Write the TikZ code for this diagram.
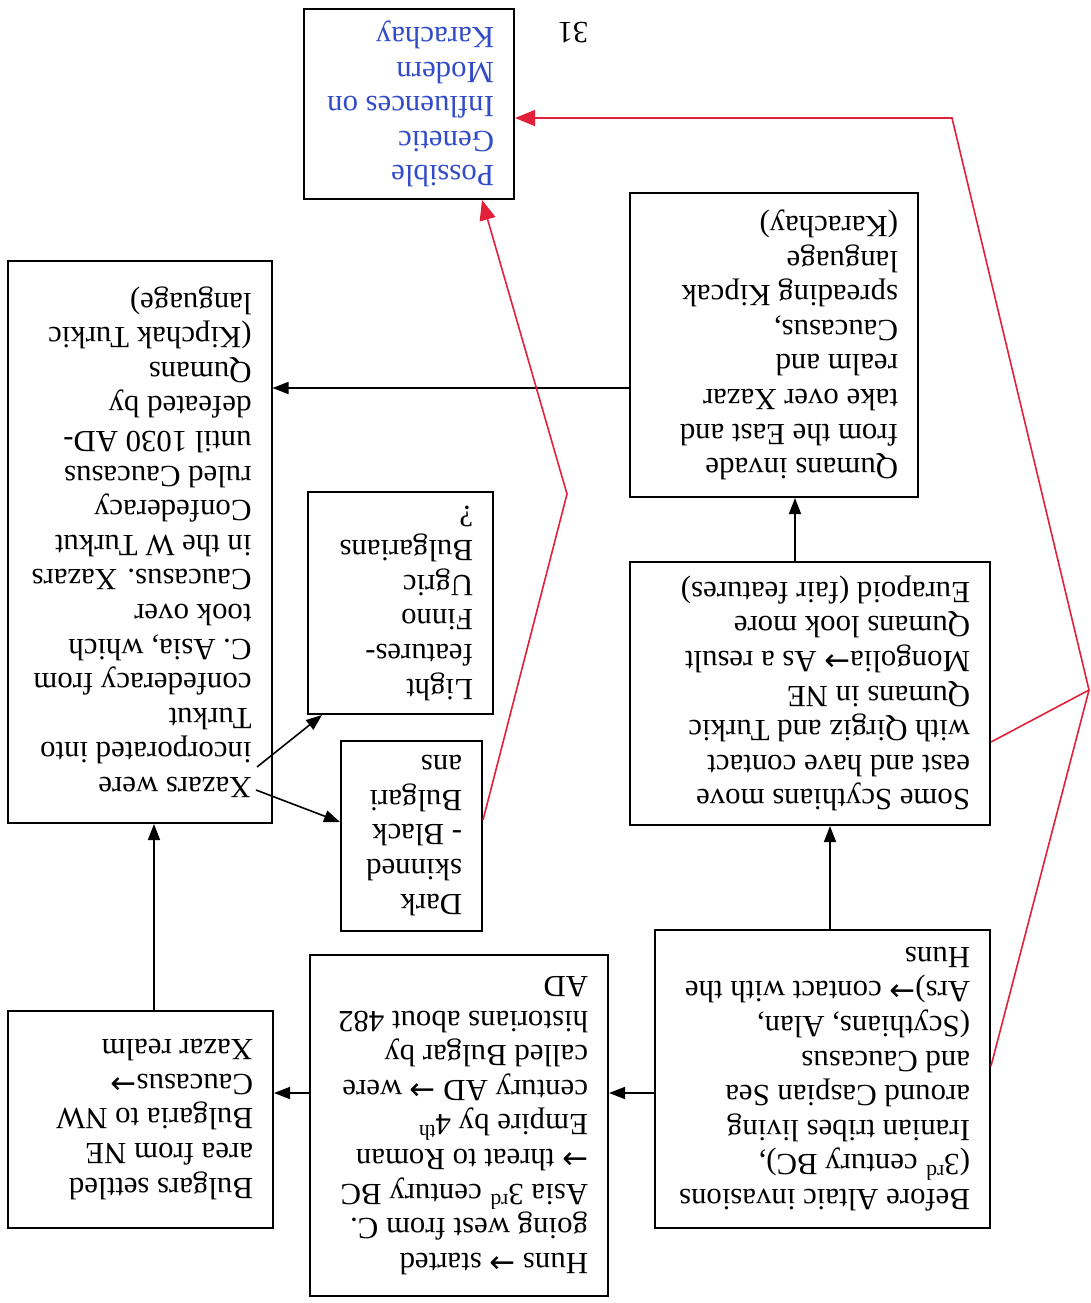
\documentclass[tikz,border=0pt]{standalone}
\usepackage{fontspec}
\setmainfont{Liberation Serif}
\newfontfamily\arrfont{DejaVu Sans}
\newcommand{\ar}{{\arrfont →}}
\newcommand{\fl}[2]{\makebox[#1][l]{#2}}
\usetikzlibrary{arrows.meta}
\definecolor{myred}{RGB}{226,32,58}
\definecolor{myblue}{RGB}{50,75,200}
\begin{document}
\begin{tikzpicture}[x=0.5pt,y=-0.5pt,
  box/.style={draw,line width=1pt,rotate=180,align=left,
    font=\fontsize{15.4}{17.3}\selectfont,inner sep=0pt},
  arr/.style={line width=0.8pt,-{Triangle[length=8pt,width=6pt]}},
  redarr/.style={myred,line width=0.8pt,-{Triangle[length=10pt,width=8pt]}},
  redline/.style={myred,line width=0.8pt}]
\useasboundingbox (0,0) rectangle (1091,1303);

\node[box,minimum width=167.5pt,minimum height=149pt] (A) at (822.5,1079)
 {\fl{147.5pt}{Before Altaic invasions}\\(3\textsuperscript{rd} century BC),\\Iranian tribes living\\around Caspian Sea\\and Caucasus\\(Scythians, Alan,\\Ars)\ar{} contact with the\\Huns};

\node[box,minimum width=149pt,minimum height=170.5pt] (B) at (459,1125.5)
 {\fl{129pt}{Huns \ar{} started}\\going west from C.\\Asia 3\textsuperscript{rd} century BC\\\ar{} threat to Roman\\Empire by 4\textsuperscript{th}\\century AD \ar{} were\\called Bulgar by\\historians about 482\\AD};

\node[box,minimum width=132.5pt,minimum height=108.5pt] (C) at (140.5,1119.5)
 {\fl{112.5pt}{Bulgars settled}\\area from NE\\Bulgaria to NW\\Caucasus\ar\\Xazar realm};

\node[box,minimum width=180pt,minimum height=131.5pt] (D) at (810,693.5)
 {\fl{160pt}{Some Scythians move}\\east and have contact\\with Qirgiz and Turkic\\Qumans in NE\\Mongolia\ar{} As a result\\Qumans look more\\Eurapoid (fair features)};

\node[box,minimum width=144pt,minimum height=152pt] (E) at (774,345)
 {\fl{124pt}{Qumans invade}\\from the East and\\take over Xazar\\realm and\\Caucasus,\\spreading Kipcak\\language\\(Karachay)};

\node[box,minimum width=132pt,minimum height=281pt] (F) at (139.5,542)
 {\fl{112pt}{Xazars were}\\incorporated into\\Turkut\\confederacy from\\C. Asia, which\\took over\\Caucasus. Xazars\\in the W Turkut\\Confederacy\\ruled Caucasus\\until 1030 AD-\\defeated by\\Qumans\\(Kipchak Turkic\\language)};

\node[box,minimum width=70.5pt,minimum height=95pt] (G) at (411.5,835.5)
 {\fl{50.5pt}{Dark}\\skinned\\- Black\\Bulgari\\ans};

\node[box,minimum width=92.5pt,minimum height=111pt] (H) at (400.5,603)
 {\fl{72.5pt}{Light}\\features-\\Finno\\Ugric\\Bulgarians\\?};

\node[box,minimum width=105pt,minimum height=95pt,text=myblue] (I) at (409,104)
 {\fl{85pt}{Possible}\\Genetic\\Influences on\\Modern\\Karachay};

\node[rotate=180,font=\fontsize{15.4}{17.3}\selectfont,inner sep=0pt] (pg) at (573,33) {31};

% black connectors
\draw[arr] (A.east |- 0,1093) -- (B.west |- 0,1093);
\draw[arr] (B.east |- 0,1093) -- (C.west |- 0,1093);
\draw[arr] (C.south -| 154,0) -- (F.north -| 154,0);
\draw[arr] (A.south -| 830,0) -- (D.north -| 830,0);
\draw[arr] (D.south -| 795,0) -- (E.north -| 795,0);
\draw[arr] (E.east |- 0,388) -- (F.west |- 0,388);
\coordinate (fg) at (256,790);
\coordinate (fh) at (257,767);
\draw[arr] (fg) -- (G.east |- 0,822);
\draw[arr] (fh) -- (H.north -| 322,0);

% red connectors
\coordinate (bend) at (567,494);
\coordinate (junc) at (1089,690);
\coordinate (corner) at (952,118);
\draw[redarr] (G.west |- 0,820) -- (bend) -- (I.north -| 482,0);
\draw[redline] (A.west |- 0,1066) -- (junc);
\draw[redline] (D.west |- 0,742) -- (junc);
\draw[redarr] (junc) -- (corner) -- (I.west |- 0,118);
\end{tikzpicture}
\end{document}
